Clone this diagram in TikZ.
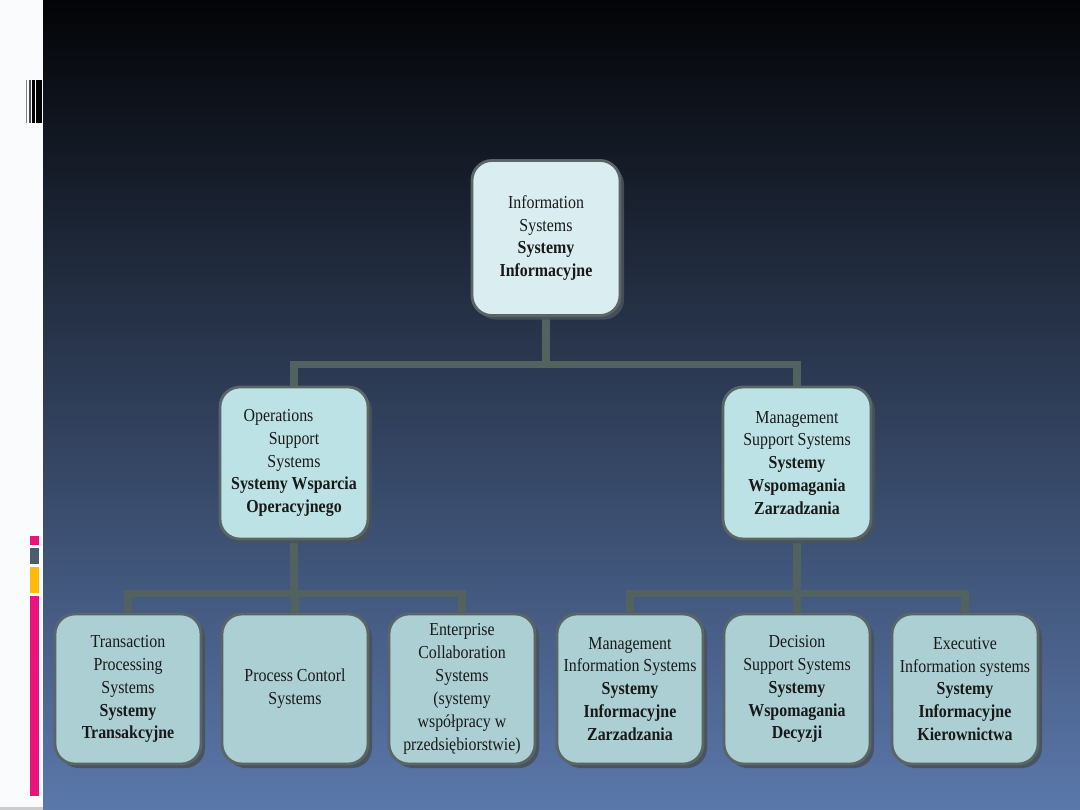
\documentclass[tikz,border=0pt]{standalone}
\usepackage{fontspec}
\setmainfont{Liberation Serif}[FakeStretch=0.87]
\usepackage{tikz}
\usetikzlibrary{shadows}

\definecolor{bgtop}{HTML}{030406}
\definecolor{bgmid}{HTML}{2B3850}
\definecolor{bgbot}{HTML}{5B78AB}
\definecolor{stripc}{HTML}{FAFBFC}
\definecolor{boxline}{HTML}{5A6568}
\definecolor{shadowc}{HTML}{47525A}
\definecolor{linkc}{HTML}{52625E}
\definecolor{fillA}{HTML}{DAEDF0}
\definecolor{fillB}{HTML}{BDE2E5}
\definecolor{fillC}{HTML}{ABCFD3}
\definecolor{tagpink}{HTML}{E8147A}
\definecolor{taggray}{HTML}{4D5A70}
\definecolor{tagyellow}{HTML}{FFBA08}

\pgfdeclarelayer{back}
\pgfdeclarelayer{wires}
\pgfsetlayers{back,wires,main}

\tikzset{
  box/.style={draw=boxline, line width=2pt, rounded corners=0.5cm,
    inner sep=0pt, align=center, text=black!90,
    font=\fontsize{13}{16.3}\selectfont,
    drop shadow={shadow xshift=0.1cm, shadow yshift=-0.1cm, fill=shadowc, opacity=0.9}},
  topbox/.style={box, fill=fillA, minimum width=3.7cm, minimum height=3.875cm},
  midbox/.style={box, fill=fillB, minimum width=3.7cm, minimum height=3.8cm},
  lowbox/.style={box, fill=fillC, minimum width=3.65cm, minimum height=3.75cm},
  link/.style={draw=linkc, line width=5pt}
}

\begin{document}
\begin{tikzpicture}[x=0.025cm, y=-0.025cm]
  \useasboundingbox (0,0) rectangle (1080,810);

  \begin{pgfonlayer}{back}
    \shade[top color=bgtop, middle color=bgmid, bottom color=bgbot] (43,0) rectangle (1080,810);
    \fill[stripc] (0,0) rectangle (43,810);
    \fill[black!20] (0,807) rectangle (43,810);
    % bars at the top of the strip
    \fill[gray] (26,80) rectangle (26.7,123);
    \fill[black!70] (28.5,80) rectangle (31,123);
    \fill[black] (32,80) rectangle (34.8,123);
    \fill[black] (36.3,80) rectangle (42,123);
    % coloured tags
    \fill[tagpink] (30,536) rectangle (39,545);
    \fill[taggray] (30,548) rectangle (39,564);
    \fill[tagyellow] (30,567) rectangle (39,593);
    \fill[tagpink] (30,596) rectangle (39,796);
  \end{pgfonlayer}

  \node[topbox] (is) at (546,238) {Information\\Systems\\\textbf{Systemy}\\\textbf{Informacyjne}};

  \node[midbox] (oss) at (294,463) {\mbox{Operations\hspace{22pt}}\\Support\\Systems\\\textbf{Systemy Wsparcia}\\\textbf{Operacyjnego}};
  \node[midbox] (mss) at (797,463) {Management\\Support Systems\\\textbf{Systemy}\\\textbf{Wspomagania}\\\textbf{Zarzadzania}};

  \node[lowbox] (tps) at (128,689) {Transaction\\Processing\\Systems\\\textbf{Systemy}\\\textbf{Transakcyjne}};
  \node[lowbox] (pcs) at (295,689) {Process Contorl\\Systems};
  \node[lowbox] (ecs) at (462,689) {Enterprise\\Collaboration\\Systems\\(systemy\\współpracy w\\przedsiębiorstwie)};
  \node[lowbox] (mis) at (630,689) {Management\\Information Systems\\\textbf{Systemy}\\\textbf{Informacyjne}\\\textbf{Zarzadzania}};
  \node[lowbox] (dss) at (797,689) {Decision\\Support Systems\\\textbf{Systemy}\\\textbf{Wspomagania}\\\textbf{Decyzji}};
  \node[lowbox] (eis) at (965,689) {Executive\\Information systems\\\textbf{Systemy}\\\textbf{Informacyjne}\\\textbf{Kierownictwa}};

  \begin{pgfonlayer}{wires}
    \draw[link] (is.south) -- ++(0,48) coordinate (j1);
    \draw[link] (oss.north) |- (j1) -| (mss.north);
    \draw[link] (oss.south) -- ++(0,53) coordinate (j2);
    \draw[link] (tps.north) |- (j2) -| (ecs.north);
    \draw[link] (pcs.north) -- (pcs.north |- j2);
    \draw[link] (mss.south) -- ++(0,53) coordinate (j3);
    \draw[link] (mis.north) |- (j3) -| (eis.north);
    \draw[link] (dss.north) -- (j3);
  \end{pgfonlayer}
\end{tikzpicture}
\end{document}
